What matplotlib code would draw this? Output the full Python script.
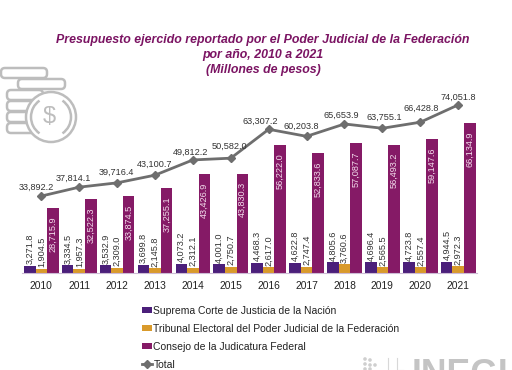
import numpy as np
import matplotlib
matplotlib.use('Agg')
import matplotlib.pyplot as plt
from matplotlib.patches import Circle, FancyBboxPatch, Arc

plt.rcParams['font.family'] = ['Liberation Sans', 'DejaVu Sans']

years = ['2010', '2011', '2012', '2013', '2014', '2015', '2016', '2017', '2018', '2019', '2020', '2021']
suprema = [3271.8, 3334.5, 3532.9, 3699.8, 4073.2, 4001.0, 4468.3, 4622.8, 4805.6, 4696.4, 4723.8, 4944.5]
tribunal = [1904.5, 1957.3, 2309.0, 2145.8, 2312.1, 2750.7, 2617.0, 2747.4, 3760.6, 2565.5, 2557.4, 2972.3]
consejo = [28715.9, 32522.3, 33874.5, 37255.1, 43426.9, 43830.3, 56222.0, 52833.6, 57087.7, 56493.2, 59147.6, 66134.9]
total = [33892.2, 37814.1, 39716.4, 43100.7, 49812.2, 50582.0, 63307.2, 60203.8, 65653.9, 63755.1, 66428.8, 74051.8]

names = ['Suprema Corte de Justicia de la Nación',
         'Tribunal Electoral del Poder Judicial de la Federación',
         'Consejo de la Judicatura Federal',
         'Total']
title = 'Presupuesto ejercido reportado por el Poder Judicial de la Federación\npor año, 2010 a 2021\n(Millones de pesos)'

# hand placed offsets of the total labels, in pixels from the marker
total_dx = [-5, -5.5, -1, 0, -2, -1.5, -8, -5, -3, 2, 1, 0]
total_dy = [9, 9, 11, 11, 8, 12, 8, 10, 9, 11, 14, 8]

W, H = 512, 370
purple, gold, magenta, grey = '#4b1f7a', '#d99a2b', '#851a66', '#6e6e6e'
icon = '#bdbdbd'

def fmt(v):
    return f'{v:,.1f}'

fig = plt.figure(figsize=(W / 100, H / 100), dpi=100, facecolor='white')

# axes placed in pixels so the bars land on the reference positions
ax = fig.add_axes([22 / W, (H - 273) / H, 455 / W, 190 / H])
x = np.arange(len(years))
bw = 0.305
b1 = ax.bar(x - bw, suprema, bw, color=purple)
b2 = ax.bar(x, tribunal, bw, color=gold)
b3 = ax.bar(x + bw, consejo, bw, color=magenta)
l1, = ax.plot(x, total, color=grey, lw=2.0, marker='D', ms=4.5)
ax.set_xlim(-0.509, 11.496)
ax.set_ylim(0, 83700)
ax.set_yticks([])
for s in ['top', 'left', 'right']:
    ax.spines[s].set_visible(False)
ax.spines['bottom'].set_color('#cdbcd6')
ax.tick_params(axis='x', length=0, pad=6, labelsize=7.4, labelcolor='#222222')
ax.set_xticks(x, years)

for i in x:
    ax.annotate(fmt(suprema[i]), (i - bw, suprema[i]), xytext=(0, 1), textcoords='offset points',
                rotation=90, ha='center', va='bottom', fontsize=6.6, color='#333333')
    ax.annotate(fmt(tribunal[i]), (i, tribunal[i]), xytext=(0, 1), textcoords='offset points',
                rotation=90, ha='center', va='bottom', fontsize=6.6, color='#333333')
    ax.annotate(fmt(consejo[i]), (i + bw, consejo[i]), xytext=(0, -6), textcoords='offset points',
                rotation=90, ha='center', va='top', fontsize=6.6, color='#f3dcec')
    ax.annotate(fmt(total[i]), (i, total[i]), xytext=(total_dx[i], total_dy[i]), textcoords='offset pixels',
                ha='center', va='center', fontsize=6.6, color='#333333')

fig.text(263 / W, 1 - 34 / H, title, ha='center', va='top', fontsize=8.95, fontweight='bold',
         fontstyle='italic', color='#7b1463', linespacing=1.33)

fig.legend([b1, b2, b3, l1], names, loc='upper left', bbox_to_anchor=(141.5 / W, 1 - 305.5 / H),
           frameon=False, fontsize=7.45, handlelength=1.0, handleheight=0.5, handletextpad=0.15,
           labelspacing=0.78, borderpad=0, borderaxespad=0, labelcolor='#222222', markerscale=0.8)

# overlay in pixel coordinates for the coin icon and logo
ov = fig.add_axes([0, 0, 1, 1], facecolor='none')
ov.set_xlim(0, W)
ov.set_ylim(H, 0)
ov.axis('off')
for (x0, y0, w) in [(1, 68, 46), (18, 79, 47), (7, 90, 36), (7, 101, 36), (7, 112, 36), (7, 123, 36)]:
    ov.add_patch(FancyBboxPatch((x0 + 4, y0 + 4), w - 8, 2, boxstyle='round,pad=4,rounding_size=4',
                                fc='white', ec=icon, lw=1.8))
ov.add_patch(Circle((51, 117), 25, fc='white', ec=icon, lw=1.8))
ov.add_patch(Arc((51, 117), 40, 40, theta1=-55, theta2=55, ec=icon, lw=1.8))
ov.add_patch(Arc((51, 117), 40, 40, theta1=125, theta2=235, ec=icon, lw=1.8))
ov.text(49, 117, '$', ha='center', va='center', fontsize=17, color=icon)

# INEGI logo, cut by the bottom edge as in the reference
fig.text(412 / W, 1 - 358 / H, 'INEGI', ha='left', va='top', fontsize=25.6, fontweight='bold', color='#c4c4c4')
for dot_x, dot_y in [(365, 359), (370, 360), (365, 364), (370, 365), (375, 365), (365, 369), (370, 369)]:
    ov.add_patch(Circle((dot_x, dot_y), 1.8, fc='#cfcfcf', ec='none'))
ov.plot([388, 388], [358, 370], color='#d8d8d8', lw=0.8)
ov.plot([397, 397, 403], [358, 370, 370], color='#d8d8d8', lw=0.8)

fig.savefig('out.png', dpi=100)
